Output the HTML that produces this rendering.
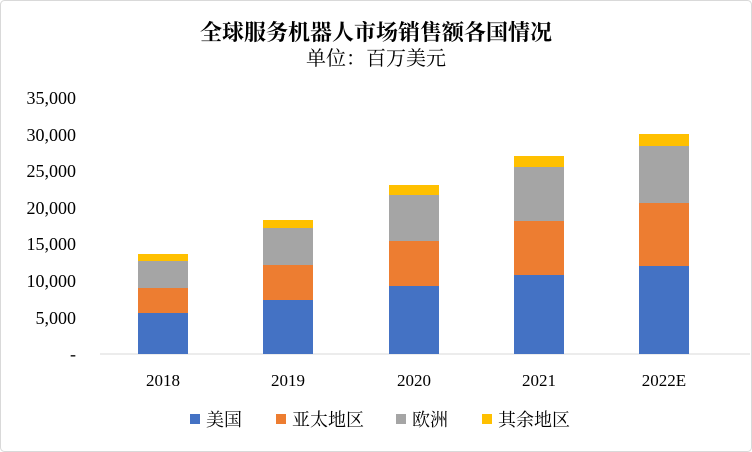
<!DOCTYPE html>
<html><head><meta charset="utf-8"><style>
body{margin:0;background:#fff;}
svg{display:block;font-family:"Liberation Serif","Noto Serif CJK SC",serif;}
</style></head><body>
<svg width="752" height="452" viewBox="0 0 752 452">
<rect x="0.5" y="0.5" width="751" height="451" rx="4" fill="#fff" stroke="#d9d9d9"/>
<text x="376" y="40" text-anchor="middle" font-size="22" font-weight="bold">全球服务机器人市场销售额各国情况</text>
<text x="376" y="65" text-anchor="middle" font-size="20">单位：百万美元</text>
<g font-size="18" text-anchor="end">
<text x="76" y="104">35,000</text>
<text x="76" y="141">30,000</text>
<text x="76" y="177">25,000</text>
<text x="76" y="214">20,000</text>
<text x="76" y="250">15,000</text>
<text x="76" y="287">10,000</text>
<text x="76" y="324">5,000</text>
<text x="76" y="360">-</text>
</g>
<line x1="100" y1="354" x2="750" y2="354" stroke="#d9d9d9"/>
<g>
<rect x="138" y="313" width="50" height="41" fill="#4472c4"/><rect x="138" y="288" width="50" height="25" fill="#ed7d31"/><rect x="138" y="261" width="50" height="27" fill="#a5a5a5"/><rect x="138" y="254" width="50" height="7" fill="#ffc000"/>
<rect x="263" y="300" width="50" height="54" fill="#4472c4"/><rect x="263" y="265" width="50" height="35" fill="#ed7d31"/><rect x="263" y="228" width="50" height="37" fill="#a5a5a5"/><rect x="263" y="220" width="50" height="8" fill="#ffc000"/>
<rect x="389" y="286" width="50" height="68" fill="#4472c4"/><rect x="389" y="241" width="50" height="45" fill="#ed7d31"/><rect x="389" y="195" width="50" height="46" fill="#a5a5a5"/><rect x="389" y="185" width="50" height="10" fill="#ffc000"/>
<rect x="514" y="275" width="50" height="79" fill="#4472c4"/><rect x="514" y="221" width="50" height="54" fill="#ed7d31"/><rect x="514" y="167" width="50" height="54" fill="#a5a5a5"/><rect x="514" y="156" width="50" height="11" fill="#ffc000"/>
<rect x="639" y="266" width="50" height="88" fill="#4472c4"/><rect x="639" y="203" width="50" height="63" fill="#ed7d31"/><rect x="639" y="146" width="50" height="57" fill="#a5a5a5"/><rect x="639" y="134" width="50" height="12" fill="#ffc000"/>
</g>
<g font-size="17" text-anchor="middle">
<text x="163" y="386">2018</text><text x="288" y="386">2019</text><text x="414" y="386">2020</text><text x="539" y="386">2021</text><text x="664" y="386">2022E</text>
</g>
<g font-size="18">
<rect x="190" y="414" width="10" height="10" fill="#4472c4"/><text x="206" y="426">美国</text>
<rect x="276" y="414" width="10" height="10" fill="#ed7d31"/><text x="292" y="426">亚太地区</text>
<rect x="396" y="414" width="10" height="10" fill="#a5a5a5"/><text x="412" y="426">欧洲</text>
<rect x="482" y="414" width="10" height="10" fill="#ffc000"/><text x="498" y="426">其余地区</text>
</g>
</svg>
</body></html>
